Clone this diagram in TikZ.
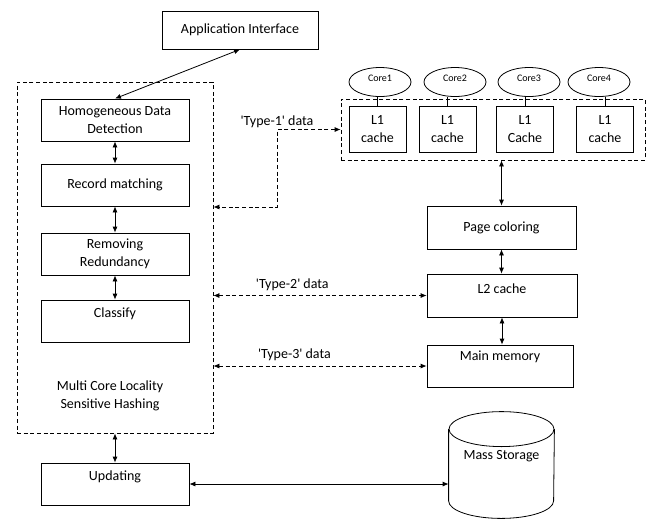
\documentclass[tikz,border=0pt]{standalone}
\usepackage{fontspec}
\setmainfont{Carlito}
\usetikzlibrary{positioning,arrows.meta,shapes.geometric}

\newcommand{\typelabel}[1]{\textquotesingle Type-#1\textquotesingle{} data}

\begin{document}
\begin{tikzpicture}[x=0.75pt,y=-0.75pt,<->,>={Latex[length=4.5pt,width=3.8pt]},line width=0.6pt,
  font=\fontsize{10.5}{13.5}\selectfont,
  box/.style={draw,rectangle,align=center,minimum width=111pt,minimum height=31.5pt,inner sep=2pt},
  upbox/.style={box,text depth=#1},
  group/.style={draw,dash pattern=on 3pt off 2pt,rectangle,inner sep=0pt},
  core/.style={draw,ellipse,minimum width=46.5pt,minimum height=21.75pt,inner sep=0pt,text depth=5pt,font=\fontsize{7.5}{9}\selectfont},
  cache/.style={box,minimum width=42.75pt,minimum height=34.5pt},
  storage/.style={rectangle,minimum width=78.75pt,minimum height=79.5pt,inner sep=0pt,text depth=14.5pt},
  datalink/.style={dash pattern=on 3pt off 2pt}]

\useasboundingbox (0,0) rectangle (646,519);

% left column
\node[box,minimum width=117pt,minimum height=28.5pt] (app) at (240,30) {Application Interface};
\node[group,minimum width=147pt,minimum height=263.25pt] (lsh) at (115,257.5) {};
\node[box] (hdd) at (115,120) {Homogeneous Data\\Detection};
\node[box] (rec) at (115,185) {Record matching};
\node[box] (red) at (115,254) {Removing\\Redundancy};
\node[upbox=13pt] (cls) at (115,321) {Classify};
\node[align=center] (lshname) at (110,396) {Multi Core Locality\\Sensitive Hashing};
\node[upbox=13pt] (upd) at (115,484) {Updating};

% cores and L1 caches
\node[group,minimum width=228pt,minimum height=45.75pt] (l1grp) at (493,129.5) {};
\node[cache] (l1a) at (377.5,129) {L1\\cache};
\node[cache] (l1b) at (447.5,129) {L1\\cache};
\node[cache] (l1c) at (525,129) {L1\\Cache};
\node[cache] (l1d) at (605,129) {L1\\cache};
\node[core] (c1) at (380,82) {Core1};
\node[core] (c2) at (455,82) {Core2};
\node[core] (c3) at (529,82) {Core3};
\node[core] (c4) at (599,82) {Core4};

% memory hierarchy
\node[box,minimum width=111.75pt,minimum height=32.25pt] (pc) at (501.5,227.5) {Page coloring};
\node[upbox=10pt,minimum width=112.5pt,minimum height=32.25pt] (l2) at (502,295.5) {L2 cache};
\node[upbox=16pt,minimum width=109.5pt] (mm) at (500,366) {Main memory};
\node[storage] (mass) at (501.5,465) {Mass Storage};
\draw[-] ([yshift=-13.125pt]mass.north west) -- ([yshift=13.125pt]mass.south west)
  arc[start angle=180,end angle=360,x radius=39.375pt,y radius=13.125pt]
  -- ([yshift=-13.125pt]mass.north east);
\draw[-] ([yshift=-13.125pt]mass.north) ellipse[x radius=39.375pt,y radius=13.125pt];

\path (app.south) edge (hdd.north)
      (hdd) edge (rec)
      (rec) edge (red)
      (red) edge (cls)
      (lsh) edge (upd)
      (pc.north |- l1grp.south) edge (pc.north)
      (pc.south) edge (pc.south |- l2.north)
      (l2.south) edge (l2.south |- mm.north)
      (upd.east) edge (upd.east -| mass.west);

\path[-] (l1a.north) edge (l1a.north |- c1.south)
         (l1b.north) edge (l1b.north |- c2.south)
         (l1c.north) edge (l1c.north |- c3.south)
         (l1d.north) edge (l1d.north |- c4.south);

% data types
\coordinate (t1) at (277,207);
\draw[datalink] (l1grp.west) -| node[above,inner sep=1pt] {\typelabel{1}} (t1) -- (t1 -| lsh.east);
\draw[datalink] (l2.west -| lsh.east) -- node[above,pos=0.37] {\typelabel{2}} (l2.west);
\draw[datalink] (mm.west -| lsh.east) -- node[above,pos=0.38] {\typelabel{3}} (mm.west);

\end{tikzpicture}
\end{document}
